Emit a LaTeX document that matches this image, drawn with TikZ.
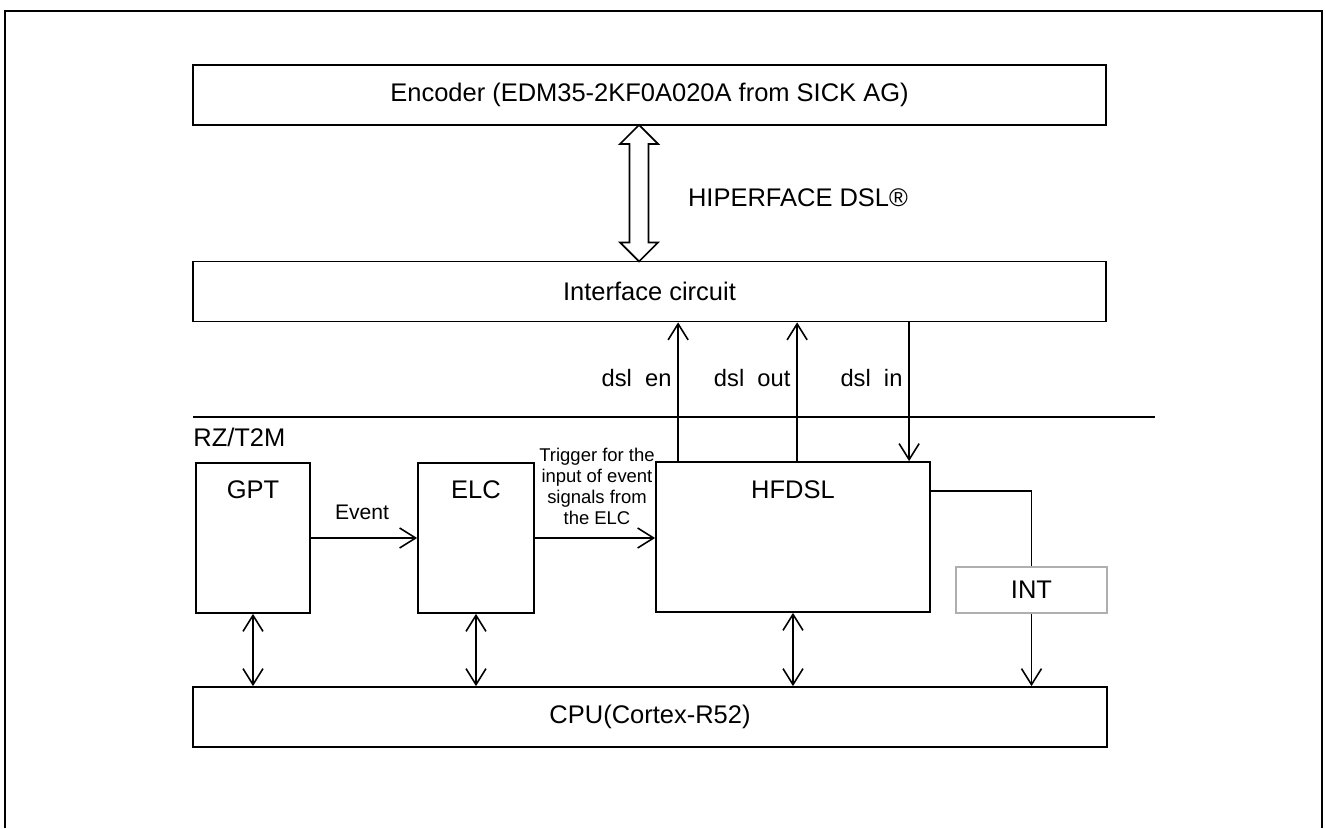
\documentclass[tikz,border=0pt]{standalone}
\usepackage{fontspec}
\setmainfont{Liberation Sans}
\usetikzlibrary{arrows.meta, calc}
\definecolor{intgray}{RGB}{175,175,175}

\begin{document}
\begin{tikzpicture}[
        blk/.style={draw, line width=1pt},
        sig/.style={line width=0.9pt, -{Straight Barb[length=3.2mm, width=4mm]}},
        bus/.style={line width=0.9pt, {Straight Barb[length=3.2mm, width=4mm]}-{Straight Barb[length=3.2mm, width=4mm]}},
        font=\fontsize{14.5}{17}\selectfont
    ]
        \useasboundingbox (0,0) rectangle (26.52,16.56);
        % Outer frame
        \draw[line width=1.3pt] (0.1,0) -- (0.1,16.34) -- (26.44,16.34) -- (26.44,0);
        
        % Encoder and interface
        \node[blk, minimum width=18.26cm, minimum height=1.2cm] (enc) at (12.99,14.66) {Encoder (EDM35-2KF0A020A from SICK AG)};
        \node[blk, minimum width=18.26cm, minimum height=1.2cm] (intf) at (12.99,10.73) {Interface circuit};
        
        % Hollow double arrow
        \coordinate (dtop) at (12.78,14.06);
        \coordinate (dbot) at (12.78,11.33);
        \draw[line width=1pt] (dtop) -- ++(0.38,-0.38) -- ++(-0.19,0) -- ($(dbot)+(0.19,0.38)$) -- ++(0.19,0) -- (dbot)
            -- ++(-0.38,0.38) -- ++(0.19,0) -- ($(dtop)+(-0.19,-0.38)$) -- ++(-0.19,0) -- cycle;
        \node (hiper) at (15.96,12.6) {HIPERFACE DSL®};
        
        % RZ/T2M section
        \coordinate (sepl) at (3.86,8.22);
        \coordinate (sepr) at (23.1,8.22);
        \draw[line width=1pt] (sepl) -- (sepr);
        \node[anchor=west, inner sep=0pt] (rz) at (3.86,7.82) {RZ/T2M};
        
        \node[blk, minimum width=2.28cm, minimum height=3cm] (gpt) at (5.06,5.8) {};
        \node (gptlbl) at (5.06,6.76) {GPT};
        
        \node[blk, minimum width=2.32cm, minimum height=3cm] (elc) at (9.52,5.8) {};
        \node (elclbl) at (9.52,6.76) {ELC};
        
        \node[blk, minimum width=5.48cm, minimum height=3cm] (hfdsl) at (15.86,5.82) {};
        \node (hfdsllbl) at (15.86,6.76) {HFDSL};
        
        \node[draw=intgray, line width=1pt, minimum width=3.02cm, minimum height=0.92cm] (intn) at (20.63,4.76) {INT};
        
        \node[blk, minimum width=18.28cm, minimum height=1.2cm] (cpu) at (13.0,2.22) {CPU(Cortex-R52)};
        
        % dsl signals
        \coordinate (enb) at ($(hfdsl.north west)+(0.46,0)$);
        \coordinate (outb) at ($(hfdsl.north west)+(2.84,0)$);
        \coordinate (inb) at ($(hfdsl.north west)+(5.08,0)$);
        \draw[sig] (enb) -- (enb |- intf.south) node[pos=0.6, left, font=\fontsize{13.5}{16}\selectfont] (enlbl) {dsl\ \ en};
        \draw[sig] (outb) -- (outb |- intf.south) node[pos=0.6, left, font=\fontsize{13.5}{16}\selectfont] (outlbl) {dsl\ \ out};
        \draw[sig] (inb |- intf.south) -- (inb) node[pos=0.4, left, font=\fontsize{13.5}{16}\selectfont] (inlbl) {dsl\ \ in};
        
        % Event and trigger
        \draw[sig] (gpt.east) -- (elc.west);
        \node[font=\fontsize{12}{14}\selectfont] (evt) at (7.24,6.32) {Event};
        \draw[sig] (elc.east) -- (elc.east -| hfdsl.west);
        \node[align=center, font=\fontsize{10.5}{12}\selectfont] (trig) at (11.94,6.83) {Trigger for the\\input of event\\signals from\\the ELC};
        
        % Interrupt
        \draw[line width=0.9pt] ($(hfdsl.north east)+(0,-0.6)$) -| (intn.north);
        \draw[sig] (intn.south) -- (intn.south |- cpu.north);
        
        % Bus to CPU
        \draw[bus] (gpt.south) -- (gpt.south |- cpu.north);
        \draw[bus] (elc.south) -- (elc.south |- cpu.north);
        \draw[bus] (hfdsl.south) -- (hfdsl.south |- cpu.north);
    \end{tikzpicture}
\end{document}
